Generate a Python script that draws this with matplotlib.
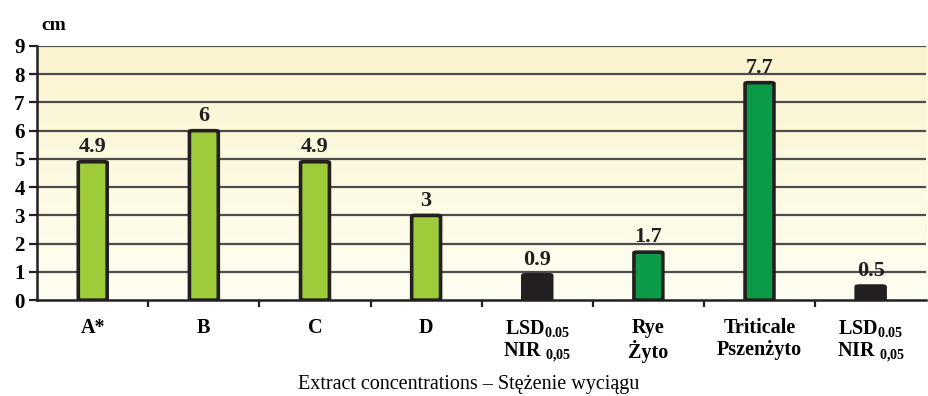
import numpy as np
import matplotlib.pyplot as plt
from matplotlib.patches import FancyBboxPatch

plt.rcParams['font.family'] = ['Liberation Serif', 'DejaVu Serif']
plt.rcParams['font.weight'] = 'bold'
plt.rcParams['mathtext.fontset'] = 'custom'
plt.rcParams['mathtext.rm'] = 'Liberation Serif:bold'
plt.rcParams['mathtext.it'] = 'Liberation Serif:bold'
plt.rcParams['mathtext.bf'] = 'Liberation Serif:bold'

# data
categories = ['A*', 'B', 'C', 'D',
              'LSD$_{0.05}$\nNIR $_{0{,}05}$',
              'Rye\nŻyto', 'Triticale\nPszenżyto',
              'LSD$_{0.05}$\nNIR $_{0{,}05}$']
values = [4.9, 6, 4.9, 3, 0.9, 1.7, 7.7, 0.5]
value_labels = ['4.9', '6', '4.9', '3', '0.9', '1.7', '7.7', '0.5']
bar_colors = ['#9ecb3a', '#9ecb3a', '#9ecb3a', '#9ecb3a', '#231f20',
              '#0b9a48', '#0b9a48', '#231f20']

fig = plt.figure(figsize=(9.29, 3.96), dpi=100)
ax = fig.add_axes([0.040, 0.242, 0.957, 0.642])

x = np.arange(len(categories))
ax.set_xlim(-0.5, len(categories) - 0.5)
ax.set_ylim(0, 9)

# gradient background
grad = np.linspace(0, 1, 256).reshape(-1, 1)
top = np.array([251, 244, 207]) / 255
bot = np.array([255, 254, 242]) / 255
img = bot + (top - bot) * grad
ax.imshow(img[:, None, :].repeat(2, axis=1), extent=(-0.5, len(categories) - 0.5, 0, 9),
          origin='lower', aspect='auto', zorder=0)

for yv in range(1, 10):
    ax.axhline(yv, color='#4d4d4d', lw=1.6, zorder=1)

bw = 0.26
for xi, v, c in zip(x, values, bar_colors):
    p = FancyBboxPatch((xi - bw / 2, 0), bw, v,
                       boxstyle='round,pad=0,rounding_size=0.03',
                       mutation_aspect=1.0,
                       facecolor=c, edgecolor='#231f20', lw=2.6, zorder=3)
    ax.add_patch(p)

for xi, v, t in zip(x, values, value_labels):
    ax.text(xi, v + 0.17, t, ha='center', va='bottom', fontsize=16,
            fontweight='bold', color='#231f20', zorder=4)

ax.set_yticks(range(10))
ax.set_yticklabels([str(i) for i in range(10)], fontsize=15, fontweight='bold')
ax.set_xticks(x)
ax.set_xticklabels(categories, fontsize=14.5, fontweight='bold', linespacing=1.1)
ax.tick_params(axis='x', length=0, pad=13)
ax.set_xticks(np.arange(0.5, len(categories) - 0.5, 1), minor=True)
ax.tick_params(axis='x', which='minor', length=5, width=1.6, color='#231f20', direction='out')
ax.tick_params(axis='y', length=6, width=1.6, color='#231f20', pad=3)

for s in ['top', 'right']:
    ax.spines[s].set_visible(False)
for s in ['left', 'bottom']:
    ax.spines[s].set_color('#231f20')
    ax.spines[s].set_linewidth(1.8)
ax.spines['bottom'].set_zorder(5)

ax.set_xlabel('Extract concentrations – Stężenie wyciągu', fontsize=14.5,
              fontweight='normal')
ax.xaxis.set_label_coords(0.485, -0.295)
fig.text(0.045, 0.935, 'cm', fontsize=14, fontweight='bold', ha='left', va='center')

fig.savefig('out.png', dpi=100)
